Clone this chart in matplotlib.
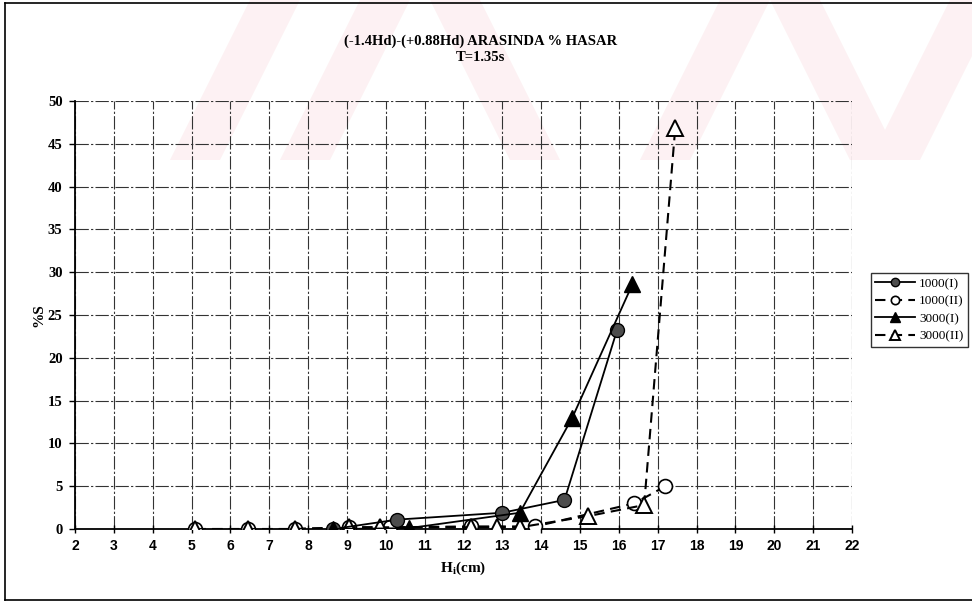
import matplotlib.pyplot as plt
from matplotlib.lines import Line2D
from matplotlib.patches import Polygon

# data
h_1000_I = [8.65, 10.3, 13.0, 14.6, 15.95]
s_1000_I = [0.0, 1.1, 1.9, 3.4, 23.2]

h_1000_II = [5.1, 6.45, 7.65, 9.05, 10.1, 12.2, 13.85, 16.4, 17.2]
s_1000_II = [0.0, 0.0, 0.0, 0.2, 0.2, 0.3, 0.3, 3.0, 5.0]

h_3000_I = [8.65, 10.6, 13.45, 14.8, 16.35]
s_3000_I = [0.0, 0.1, 1.9, 13.0, 28.6]

h_3000_II = [5.1, 6.45, 7.65, 9.05, 9.85, 12.2, 12.85, 13.45, 15.2, 16.65, 17.45]
s_3000_II = [0.0, 0.0, 0.0, 0.2, 0.2, 0.2, 0.2, 0.2, 1.5, 2.8, 46.8]

x_ticks = list(range(2, 23))
y_ticks = list(range(0, 51, 5))

serif = 'Liberation Serif'
sans = 'Liberation Sans'

W, H = 972, 603
fig = plt.figure(figsize=(W / 100, H / 100), dpi=100)

# faint pink watermark stripes (scan background), pixel corners top -> y=160
pink = '#fdf1f3'
stripes = [(250, 300, 170, 220), (360, 410, 280, 330), (430, 480, 510, 560),
           (720, 770, 640, 690), (770, 820, 850, 900), (950, 1000, 870, 920)]
for x0, x1, b0, b1 in stripes:
    pts = [(x0 / W, 1.0), (x1 / W, 1.0), (b1 / W, 1 - 160 / H), (b0 / W, 1 - 160 / H)]
    fig.add_artist(Polygon(pts, closed=True, transform=fig.transFigure,
                           facecolor=pink, edgecolor='none', zorder=0))

# outer frame
for xs, ys in [([0.005, 0.005], [0.005, 0.995]), ([0.005, 1.0], [0.995, 0.995]),
               ([0.005, 1.0], [0.005, 0.005])]:
    fig.add_artist(Line2D(xs, ys, transform=fig.transFigure, color='black', lw=1.2))

ax = fig.add_axes([0.0772, 0.1227, 0.7993, 0.7098])
ax.patch.set_alpha(0)

ax.plot(h_1000_I, s_1000_I, color='black', lw=1.3, marker='o', ms=10,
        mfc='0.3', mec='black', label='1000(I)', zorder=4)
ax.plot(h_1000_II, s_1000_II, color='black', lw=1.5, ls=(0, (5, 3)), marker='o', ms=10,
        mfc='white', mec='black', mew=1.2, label='1000(II)', zorder=3)
ax.plot(h_3000_I, s_3000_I, color='black', lw=1.3, marker='^', ms=11,
        mfc='black', mec='black', label='3000(I)', zorder=4)
ax.plot(h_3000_II, s_3000_II, color='black', lw=1.5, ls=(0, (5, 3)), marker='^', ms=11,
        mfc='white', mec='black', mew=1.4, label='3000(II)', zorder=3)

ax.set_xlim(2, 22)
ax.set_ylim(0, 50)
ax.set_xticks(x_ticks)
ax.set_yticks(y_ticks)
ax.grid(True, color='0.2', lw=0.8, ls=(0, (12, 2, 2, 2)))
ax.set_axisbelow(True)
ax.spines['top'].set_visible(False)
ax.spines['right'].set_visible(False)
ax.spines['left'].set_linewidth(1.3)
ax.spines['bottom'].set_linewidth(1.3)
ax.tick_params(axis='x', direction='inout', length=6, width=1, pad=4)
ax.tick_params(axis='y', direction='out', length=4, width=1, pad=5)
for t in ax.get_xticklabels():
    t.set_fontfamily(sans)
    t.set_fontweight('bold')
    t.set_fontsize(10)
for t in ax.get_yticklabels():
    t.set_fontfamily(serif)
    t.set_fontweight('bold')
    t.set_fontsize(10.5)

ax.set_xlabel(r'H$_\mathregular{i}$(cm)', fontfamily=serif, fontweight='bold',
              fontsize=11, labelpad=5)
ax.set_ylabel('%S', fontfamily=serif, fontweight='bold', fontsize=11, labelpad=2)

fig.text(0.494, 0.932, '(-1.4Hd)-(+0.88Hd) ARASINDA % HASAR', ha='center', va='center',
         fontfamily=serif, fontweight='bold', fontsize=10.5)
fig.text(0.494, 0.905, 'T=1.35s', ha='center', va='center',
         fontfamily=serif, fontweight='bold', fontsize=10.5)

leg = fig.legend(loc='center', bbox_to_anchor=(0.946, 0.486), frameon=True, fancybox=False,
                 edgecolor='black', prop={'family': serif, 'size': 9.5}, handlelength=3.0,
                 handletextpad=0.3, borderpad=0.35, labelspacing=0.4, markerscale=0.6)
leg.get_frame().set_linewidth(1.0)

fig.savefig('out.png', dpi=100)
